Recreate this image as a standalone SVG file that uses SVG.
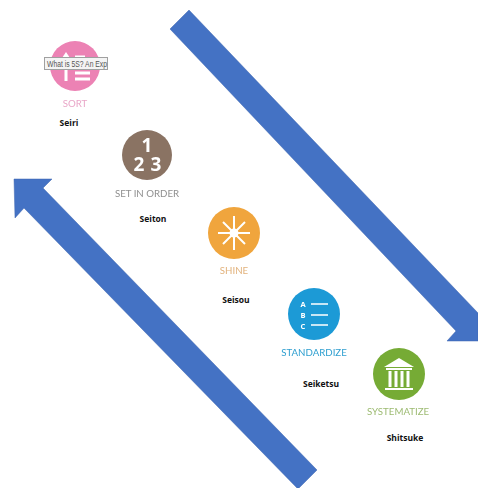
<svg xmlns="http://www.w3.org/2000/svg" width="478" height="488" viewBox="0 0 478 488">
<style>
.a{fill:#4472c4;stroke:#3f66b0;stroke-width:.5}
.c{font-family:Lato,"Liberation Sans",sans-serif;font-size:9.700px;text-anchor:middle}
.k{font-family:"Open Sans","Liberation Sans",sans-serif;font-size:8.500px;font-weight:700;text-anchor:middle;fill:#111}
.w{stroke:#fff;fill:none}
.n{font-family:"Open Sans","Liberation Sans",sans-serif;fill:#fff;font-weight:700;text-anchor:middle}
</style>
<defs><filter id="soft" x="-10%" y="-10%" width="120%" height="120%"><feGaussianBlur stdDeviation="0.4"/></filter></defs>
<rect width="478" height="488" fill="#fff"/>
<g id="connectors">
<polygon class="a" points="189,10 478,313 478,341 447,341 456,331 170,29"/>
<polygon class="a" points="14,179 52,179 43,188 317,470 299,488 297,488 24,208 15,218"/>
</g>
<g id="sort">
<g filter="url(#soft)">
<circle cx="75" cy="66" r="25" fill="#ec82b4"/>
<path fill="#fff" d="M66 52L70 58H62Z"/>
<path class="w" stroke-width="3" d="M66 56V81M75 57H85M75 73H90M75 79H90"/>
<text class="c" x="75" y="107" fill="#e9a7c8">SORT</text>
</g>
<rect x="44.500" y="57.500" width="63" height="12" fill="#f4f4f4" stroke="#a0a0a0"/>
<text x="47" y="66.500" font-family="Liberation Sans,sans-serif" font-size="8.500" fill="#555" textLength="60" lengthAdjust="spacingAndGlyphs">What is 5S? An Exp</text>
<text class="k" x="69" y="126">Seiri</text>
</g>
<g id="set-in-order">
<g filter="url(#soft)">
<circle cx="147" cy="155" r="25" fill="#8a7364"/>
<text class="n" x="147" y="152" font-size="19">1</text>
<text class="n" x="139" y="171" font-size="19">2</text>
<text class="n" x="156" y="171" font-size="19">3</text>
<text class="c" x="147" y="197" fill="#8f8f8f">SET IN ORDER</text>
</g>
<text class="k" x="153" y="222">Seiton</text>
</g>
<g id="shine">
<g filter="url(#soft)">
<circle cx="234" cy="233" r="26" fill="#f0a53c"/>
<path class="w" stroke-width="2" d="M234 216V250M218 233H250M223 222L245 244M245 222L223 244"/>
<circle cx="234" cy="233" r="4.500" fill="#fff"/>
<text class="c" x="234" y="274" fill="#e2b27c">SHINE</text>
</g>
<text class="k" x="236" y="303">Seisou</text>
</g>
<g id="standardize">
<g filter="url(#soft)">
<circle cx="314" cy="314" r="26" fill="#1e9ad6"/>
<text class="n" x="303" y="307" font-size="7.500">A</text>
<text class="n" x="303" y="318" font-size="7.500">B</text>
<text class="n" x="303" y="329" font-size="7.500">C</text>
<path class="w" stroke-width="1.500" d="M311 304H328M311 315H328M311 325H328"/>
<text class="c" x="314" y="356" fill="#2f9fd0">STANDARDIZE</text>
</g>
<text class="k" x="321" y="387">Seiketsu</text>
</g>
<g id="systematize">
<g filter="url(#soft)">
<circle cx="399" cy="374" r="26" fill="#76ab35"/>
<path fill="#fff" d="M399 358L414 367H384Z"/>
<path class="w" stroke-width="2" d="M386 369H412"/>
<path class="w" stroke-width="3" d="M390 371V387M396 371V387M402 371V387M408 371V387"/>
<path class="w" stroke-width="2" d="M385 389H413"/>
<text class="c" x="398" y="415" fill="#9dbb72">SYSTEMATIZE</text>
</g>
<text class="k" x="405" y="441">Shitsuke</text>
</g>
</svg>
